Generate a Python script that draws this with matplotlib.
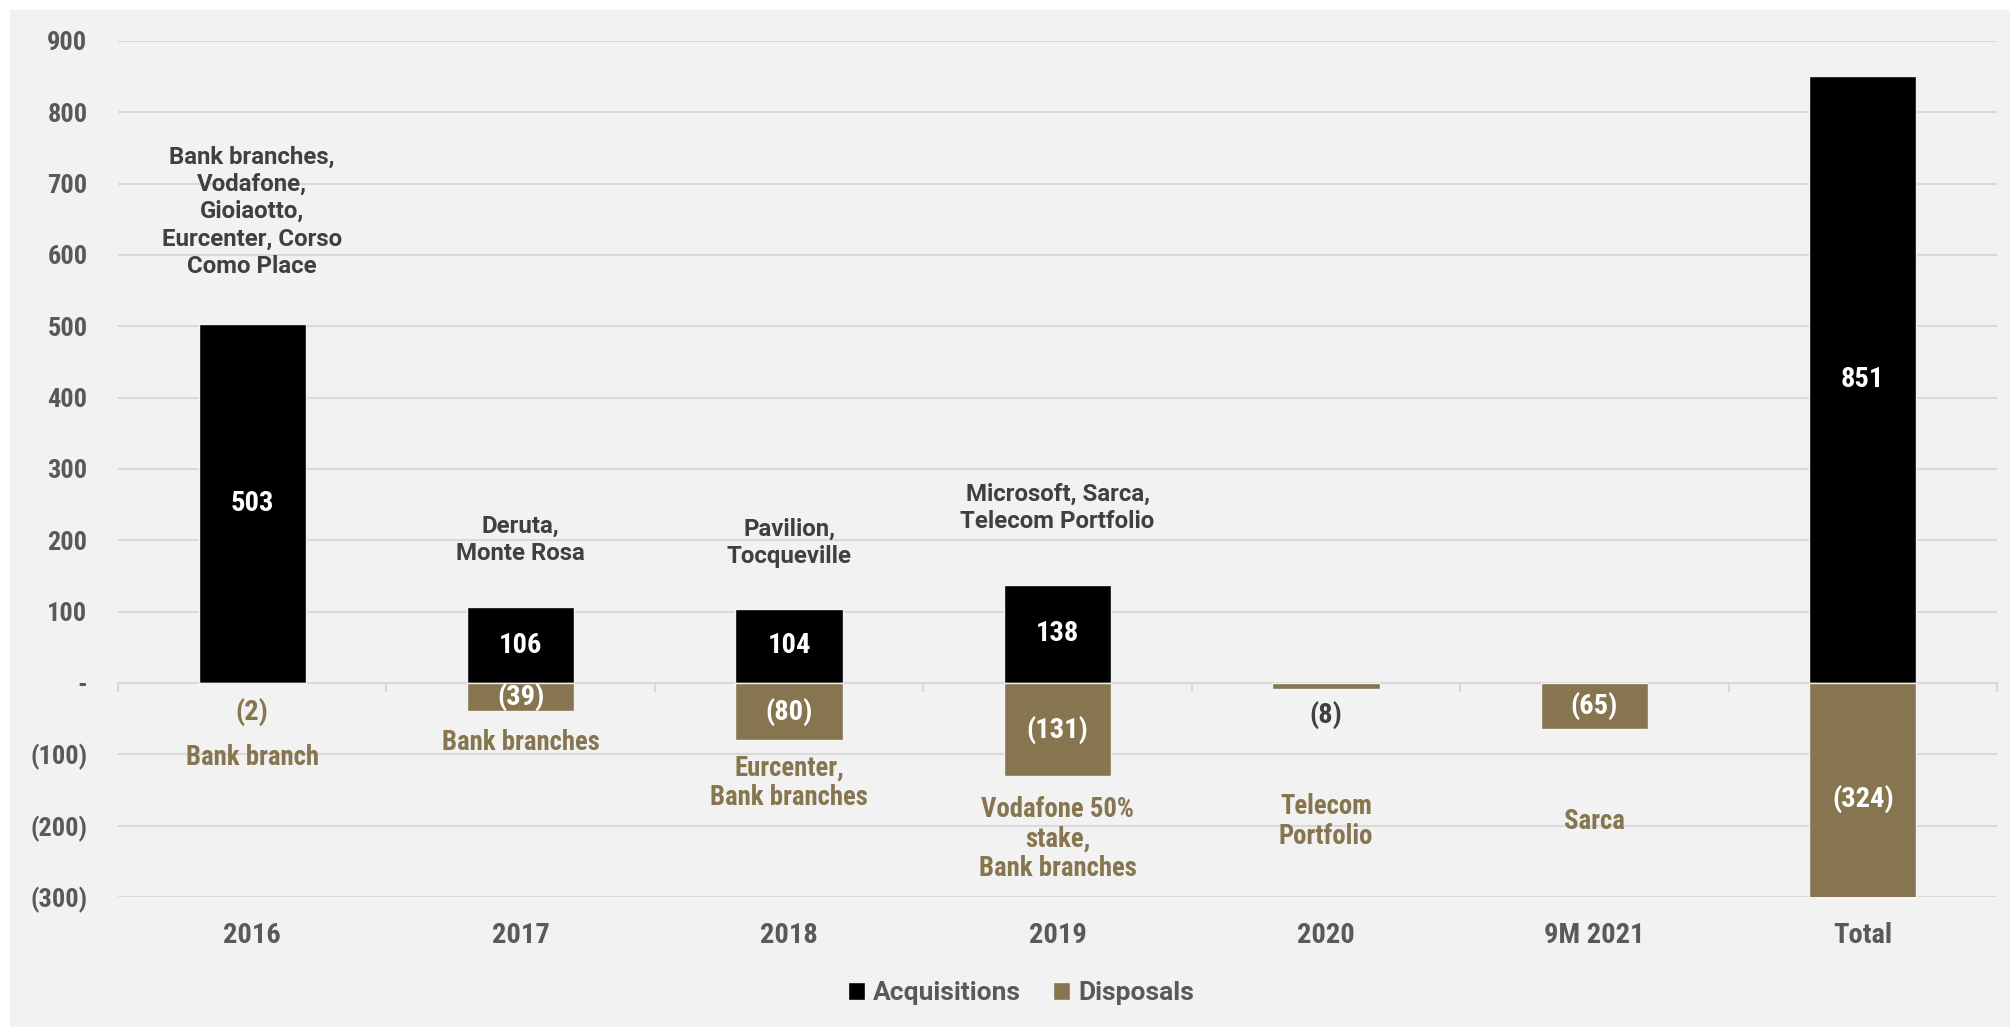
import matplotlib
matplotlib.use("Agg")
import matplotlib.pyplot as plt
from matplotlib import font_manager
from matplotlib.patches import Rectangle
from matplotlib.ticker import FixedLocator, FuncFormatter

# ---- data -------------------------------------------------------------
categories = ["2016", "2017", "2018", "2019", "2020", "9M 2021", "Total"]
acquisitions = [503, 106, 104, 138, 0, 0, 851]
disposals = [-2, -39, -80, -131, -8, -65, -324]

acq_notes = [
    "Bank branches,\nVodafone,\nGioiaotto,\nEurcenter, Corso\nComo Place",
    "Deruta,\nMonte Rosa",
    "Pavilion,\nTocqueville",
    "Microsoft, Sarca,\nTelecom Portfolio",
    "", "", "",
]
disp_notes = [
    "Bank branch",
    "Bank branches",
    "Eurcenter,\nBank branches",
    "Vodafone 50%\nstake,\nBank branches",
    "Telecom\nPortfolio",
    "Sarca",
    "",
]

# ---- layout (text centres in data units) ------------------------------
acq_note_y = [661, 201, 196, 246, None, None, None]
disp_note_y = [-104, -84, -140, -219, -194, -194, None]
small_label_y = {0: -40, 4: -45}   # labels placed below very small bars

# ---- styling ----------------------------------------------------------
BG = "#F2F2F2"
GRID = "#D9D9D9"
ACQ = "#000000"
DISP = "#877550"
TICK_TXT = "#595959"
NOTE_TXT = "#404040"

installed = {f.name for f in font_manager.fontManager.ttflist}
COND = next((n for n in ["Roboto Condensed", "Liberation Sans Narrow"]
             if n in installed), "Roboto")
plt.rcParams["font.family"] = ["Roboto", "DejaVu Sans"]
plt.rcParams["font.weight"] = "bold"

fig = plt.figure(figsize=(20.10, 10.27), dpi=100, facecolor="white")
fig.patches.append(Rectangle((10 / 2010, 0), 1, (1027 - 10) / 1027,
                             transform=fig.transFigure, facecolor=BG,
                             edgecolor="none", zorder=-10))

ax = fig.add_axes([118 / 2010, 130 / 1027, (1997 - 118) / 2010, (897 - 41) / 1027])
ax.set_facecolor(BG)
ax.patch.set_alpha(0)

x = list(range(len(categories)))
width = 0.40
ax.bar(x, acquisitions, width, color=ACQ, edgecolor=BG, linewidth=1.0,
       label="Acquisitions", zorder=3)
ax.bar(x, disposals, width, color=DISP, edgecolor=BG, linewidth=1.0,
       label="Disposals", zorder=3)

ymin, ymax = -300, 900
ax.set_ylim(ymin, ymax)
ax.set_xlim(-0.5, len(categories) - 0.5)

# y axis
ax.yaxis.set_major_locator(FixedLocator(range(ymin, ymax + 1, 100)))


def fmt(v, _pos=None):
    v = int(round(v))
    if v == 0:
        return "-"
    return f"({abs(v)})" if v < 0 else f"{v}"


ax.yaxis.set_major_formatter(FuncFormatter(fmt))
ax.tick_params(axis="y", length=0, pad=22, labelsize=19, labelcolor=TICK_TXT)
for lab in ax.get_yticklabels():
    lab.set_fontfamily([COND, "Roboto", "DejaVu Sans"])
    lab.set_fontweight("bold")

ax.yaxis.grid(True, color=GRID, linewidth=1.5)
ax.set_axisbelow(True)
for s in ax.spines.values():
    s.set_visible(False)

# x axis labels at the bottom
ax.set_xticks(x)
ax.set_xticklabels(categories)
ax.tick_params(axis="x", length=0, pad=18, labelsize=20.5, labelcolor=TICK_TXT)
for lab in ax.get_xticklabels():
    lab.set_fontfamily([COND, "Roboto", "DejaVu Sans"])
    lab.set_fontweight("bold")

# category separators along the zero line
zero_frac = (0 - ymin) / (ymax - ymin)
sec = ax.secondary_xaxis(zero_frac)
sec.set_xticks([i - 0.5 for i in range(len(categories) + 1)])
sec.set_xticklabels([])
sec.tick_params(axis="x", direction="out", length=6.5, width=1.5, color=GRID)
sec.spines["bottom"].set_color(GRID)
sec.spines["bottom"].set_linewidth(1.5)
for k in ("top", "left", "right"):
    sec.spines[k].set_visible(False)

cond_font = dict(family=[COND, "Roboto", "DejaVu Sans"], weight="bold")

# value labels
for i, v in enumerate(acquisitions):
    if v > 0:
        ax.text(i, v / 2, fmt(v), ha="center", va="center", color="white",
                fontsize=20.5, zorder=5, **cond_font)
for i, v in enumerate(disposals):
    if i in small_label_y:
        col = DISP if i == 0 else NOTE_TXT
        ax.text(i, small_label_y[i], fmt(v), ha="center", va="center",
                color=col, fontsize=20.5, zorder=5, **cond_font)
    else:
        ax.text(i, v / 2, fmt(v), ha="center", va="center", color="white",
                fontsize=20.5, zorder=5, **cond_font)

# deal notes
for i, (note, y) in enumerate(zip(acq_notes, acq_note_y)):
    if note:
        ax.text(i, y, note, ha="center", va="center", color=NOTE_TXT,
                fontsize=17.3, fontweight="bold", linespacing=1.24, zorder=5)
for i, (note, y) in enumerate(zip(disp_notes, disp_note_y)):
    if note:
        ax.text(i, y, note, ha="center", va="center", color=DISP,
                fontsize=19.3, linespacing=1.13, zorder=5, **cond_font)

leg = fig.legend(loc="center", bbox_to_anchor=(1021 / 2010, 34 / 1027),
                 ncol=2, frameon=False, fontsize=19, handlelength=0.65,
                 handleheight=0.65, handletextpad=0.3, columnspacing=1.2)
for t in leg.get_texts():
    t.set_color(TICK_TXT)
    t.set_fontweight("bold")

fig.savefig("out.png", dpi=100, facecolor=fig.get_facecolor())
